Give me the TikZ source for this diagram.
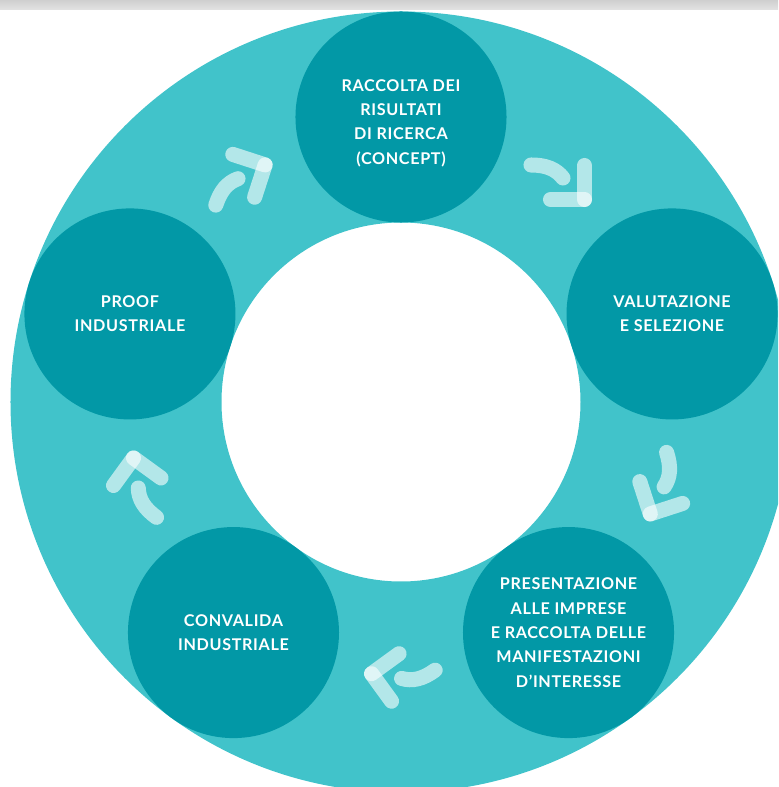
\documentclass[tikz,border=0pt]{standalone}
\usepackage{fontspec}
\setmainfont{Lato}
\newfontfamily\stagefont[LetterSpace=4]{Lato}

\definecolor{ringcyan}{RGB}{65,195,202}
\definecolor{stagecyan}{RGB}{2,152,166}

\begin{document}
\begin{tikzpicture}[x=0.025cm, y=0.025cm,
  stage/.style={circle, fill=stagecyan, minimum size=5.275cm, inner sep=0pt,
    text=white, align=center, font=\stagefont\bfseries\fontsize{11.5}{17.3}\selectfont},
  stagetext/.style={text=white, align=center, inner sep=0pt,
    font=\stagefont\bfseries\fontsize{11.5}{17.3}\selectfont},
  arrowpart/.style={draw=white, draw opacity=0.6, line width=10.7pt, line cap=round}]

\useasboundingbox (-401,-385) rectangle (377,402);
\clip (-401,-385) rectangle (377,402);

% Define ring
\fill[top color=gray!38, bottom color=gray!22] (-401,392) rectangle (377,402);
\fill[ringcyan, even odd rule] (0,0) circle (390.5) (0,0) circle (179.5);

% Define nodes
\path
(90:285) node[stage] (concept) {}
(18:285) node[stage] (selezione) {VALUTAZIONE\\E SELEZIONE}
(-54:285) node[stage] (imprese) {PRESENTAZIONE\\ALLE IMPRESE\\E RACCOLTA DELLE\\MANIFESTAZIONI\\D’INTERESSE}
(-126:285) node[stage] (convalida) {CONVALIDA\\INDUSTRIALE}
(162:285) node[stage] (proof) {PROOF\\INDUSTRIALE}
;
\path (concept.center) +(0,-6) node[stagetext] (conceptlabel)
  {RACCOLTA DEI\\RISULTATI\\DI RICERCA\\(CONCEPT)};

% arrows between the stages
\foreach \i in {0,...,4} {
\begin{scope}[rotate=-72*\i]
\draw[arrowpart] (130,237) .. controls (145,237) and (155,233) .. (162,224);
\draw[arrowpart] (183.5,236.5) -- (183.5,202.5);
\draw[arrowpart] (149.5,202.5) -- (183.5,202.5);
\end{scope}
}

\end{tikzpicture}
\end{document}
